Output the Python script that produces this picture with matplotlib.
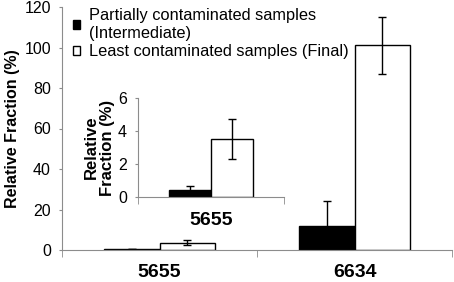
import matplotlib.pyplot as plt
import numpy as np

plt.rcParams['font.family'] = ['Liberation Sans', 'DejaVu Sans']

categorias = ['5655', '6634']
intermedio = [0.45, 12.0]
intermedio_err = [0.2, 12.0]
final = [3.5, 101.0]
final_err = [1.2, 14.3]
etiquetas = ['Partially contaminated samples\n(Intermediate)',
             'Least contaminated samples (Final)']

gris = '#8c8c8c'
ancho = 0.285
barra_err = dict(ecolor='black', elinewidth=1, capsize=3, capthick=1)

fig = plt.figure(figsize=(4.54, 2.82), dpi=100)
ax = fig.add_axes([62/454, 32/282, 390/454, 243/282])

x = np.arange(len(categorias))
b1 = ax.bar(x - ancho/2, intermedio, ancho, color='black', edgecolor='black', linewidth=1,
            yerr=intermedio_err, error_kw=barra_err)
b2 = ax.bar(x + ancho/2, final, ancho, color='white', edgecolor='black', linewidth=1,
            yerr=final_err, error_kw=barra_err)

ax.set_xlim(-0.5, 1.5)
ax.set_ylim(0, 120)
ax.set_yticks(range(0, 121, 20))
ax.set_xticks(x)
ax.set_xticklabels(categorias, fontsize=14, fontweight='bold')
ax.set_xticks([-0.5, 0.5, 1.5], minor=True)
ax.tick_params(axis='x', which='major', length=0, pad=10)
ax.tick_params(axis='x', which='minor', length=5, color=gris)
ax.tick_params(axis='y', length=2, pad=6, color=gris, labelsize=11.5)
ax.set_ylabel('Relative Fraction (%)', fontsize=11.5, fontweight='bold', labelpad=3)
for lado in ['top', 'right']:
    ax.spines[lado].set_visible(False)
for lado in ['left', 'bottom']:
    ax.spines[lado].set_color(gris)

leg = ax.legend([b1, b2], etiquetas, loc='upper left', bbox_to_anchor=(0.0, 1.045), frameon=False,
                fontsize=11.8, handlelength=0.4, handleheight=0.4, handletextpad=0.55,
                labelspacing=0.2, borderaxespad=0.3)
leg.get_texts()[0].set_linespacing(1.3)

# grafico insertado
ins = fig.add_axes([138/454, 85/282, 146/454, 99/282])
ins.bar([-ancho/2], intermedio[:1], ancho, color='black', edgecolor='black', linewidth=1,
        yerr=intermedio_err[:1], error_kw=barra_err)
ins.bar([ancho/2], final[:1], ancho, color='white', edgecolor='black', linewidth=1,
        yerr=final_err[:1], error_kw=barra_err)
ins.set_xlim(-0.5, 0.5)
ins.set_ylim(0, 6)
ins.set_yticks(range(0, 7, 2))
ins.set_xticks([0])
ins.set_xticklabels(categorias[:1], fontsize=14, fontweight='bold')
ins.set_xticks([-0.5, 0.5], minor=True)
ins.tick_params(axis='x', which='major', length=0, pad=11)
ins.tick_params(axis='x', which='minor', length=5, color=gris)
ins.tick_params(axis='y', length=2, pad=6, color=gris, labelsize=11.5)
ins.set_ylabel('Relative\nFraction (%)', fontsize=12, fontweight='bold', labelpad=2,
               linespacing=1.1)
ins.patch.set_alpha(0)
for lado in ['top', 'right']:
    ins.spines[lado].set_visible(False)
for lado in ['left', 'bottom']:
    ins.spines[lado].set_color(gris)

fig.savefig('out.png', dpi=100)
